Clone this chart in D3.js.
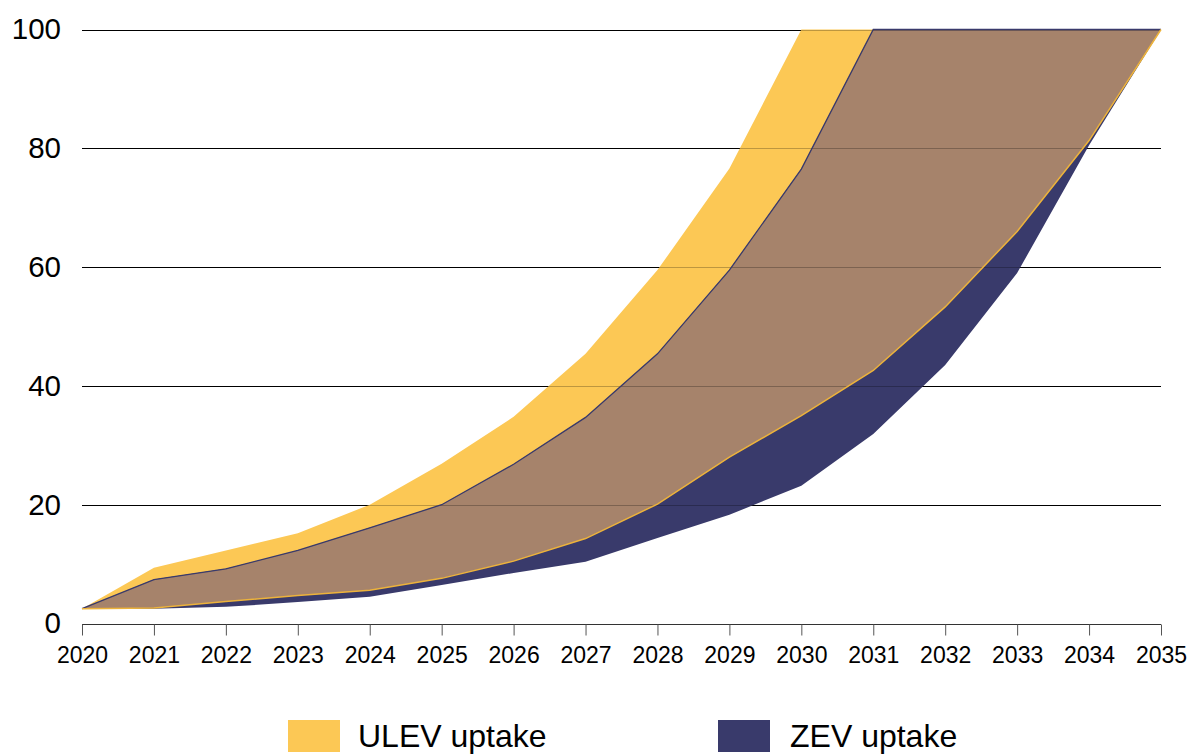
<!DOCTYPE html>
<html>
<head>
<meta charset="utf-8">
<script src="https://cdn.jsdelivr.net/npm/d3@7"></script>
<style>
  html, body { margin: 0; padding: 0; background: #fff; }
  svg { display: block; font-family: "Liberation Sans", Arial, Helvetica, sans-serif; }
</style>
</head>
<body>
<svg id="chart" width="1203" height="754"></svg>
<script>
const years = [2020,2021,2022,2023,2024,2025,2026,2027,2028,2029,2030,2031,2032,2033,2034,2035];
const ulevUpper = [2.5, 9.4, 12.3, 15.2, 20.0, 26.9, 34.8, 45.4, 59.5, 76.6, 100, 100, 100, 100, 100, 100];
const ulevLower = [2.5, 2.6, 3.7, 4.7, 5.6, 7.6, 10.5, 14.3, 20.1, 28.0, 35.0, 42.6, 53.3, 66.0, 81.3, 100];
const zevUpper  = [2.5, 7.4, 9.2, 12.3, 16.1, 20.0, 26.8, 34.7, 45.4, 59.5, 76.5, 100, 100, 100, 100, 100];
const zevLower  = [2.5, 2.5, 2.8, 3.6, 4.5, 6.5, 8.5, 10.4, 14.4, 18.3, 23.2, 31.9, 43.5, 59.0, 80.5, 100];
const yTicks = [0, 20, 40, 60, 80, 100];
const legendLabels = ["ULEV uptake", "ZEV uptake"];

const colYellow = "#FCC855", colNavy = "#393A6B", colBrown = "#A6836B", colGold = "#EDB33B";

const svg = d3.select("#chart");
const x = d3.scaleLinear().domain([2020, 2035]).range([82, 1161]);
const y = d3.scaleLinear().domain([0, 100]).range([623.5, 29.5]);

// gridlines (under)
const grid = svg.append("g");
grid.selectAll("line").data(yTicks.filter(d => d > 0)).join("line")
  .attr("x1", x(2020)).attr("x2", x(2035))
  .attr("y1", d => Math.round(y(d)) + 0.5).attr("y2", d => Math.round(y(d)) + 0.5)
  .attr("stroke", "#000").attr("stroke-width", 1);

const idx = d3.range(years.length);
const band = (lo, hi) => d3.area().x(i => x(years[i])).y0(i => y(lo[i])).y1(i => y(hi[i]))(idx);
const edge = (arr) => d3.line().x(i => x(years[i])).y(i => y(arr[i]))(idx);

svg.append("path").attr("d", band(ulevLower, ulevUpper)).attr("fill", colYellow);
svg.append("path").attr("d", band(zevLower, zevUpper)).attr("fill", colNavy);
// overlap
const ovLo = idx.map(i => Math.max(ulevLower[i], zevLower[i]));
const ovHi = idx.map(i => Math.min(ulevUpper[i], zevUpper[i]));
svg.append("path").attr("d", band(ovLo, ovHi)).attr("fill", colBrown);

// translucent gridlines over the bands
const grid2 = svg.append("g");
grid2.selectAll("line").data(yTicks.filter(d => d > 0)).join("line")
  .attr("x1", x(2020)).attr("x2", x(2035))
  .attr("y1", d => Math.round(y(d)) + 0.5).attr("y2", d => Math.round(y(d)) + 0.5)
  .attr("stroke", "#000").attr("stroke-opacity", 0.25).attr("stroke-width", 1);

svg.append("path").attr("d", edge(zevUpper)).attr("fill", "none").attr("stroke", colNavy).attr("stroke-width", 1.3);
svg.append("path").attr("d", edge(ulevLower)).attr("fill", "none").attr("stroke", colGold).attr("stroke-width", 1.5);

// x axis
const xAxis = d3.axisBottom(x).tickValues(years).tickFormat(d3.format("d")).tickSize(11).tickPadding(11);
const gx = svg.append("g").attr("transform", `translate(0,${Math.round(y(0)) + 0.5})`).call(xAxis);
gx.select(".domain").attr("stroke", "#333").attr("d", `M${x(2020)},0H${x(2035)}`);
gx.selectAll(".tick line").attr("stroke", "#555");
gx.selectAll(".tick text").attr("fill", "#000").attr("font-size", 23)
  .attr("font-family", "Liberation Sans, Arial, sans-serif");

// y axis labels
const yAxis = d3.axisLeft(y).tickValues(yTicks).tickSize(0).tickPadding(21);
const gy = svg.append("g").attr("transform", `translate(${x(2020)},0)`).call(yAxis);
gy.select(".domain").remove();
gy.selectAll(".tick text").attr("fill", "#000").attr("font-size", 29.5)
  .attr("font-family", "Liberation Sans, Arial, sans-serif");

// legend
const legend = svg.append("g");
const legendItems = [
  { label: legendLabels[0], color: colYellow, sx: 288, tx: 358 },
  { label: legendLabels[1], color: colNavy, sx: 718, tx: 790 }
];
legendItems.forEach(d => {
  legend.append("rect").attr("x", d.sx).attr("y", 720).attr("width", 52).attr("height", 32).attr("fill", d.color);
  legend.append("text").attr("x", d.tx).attr("y", 747).attr("font-size", 32)
    .attr("fill", "#000").text(d.label);
});
</script>
</body>
</html>
